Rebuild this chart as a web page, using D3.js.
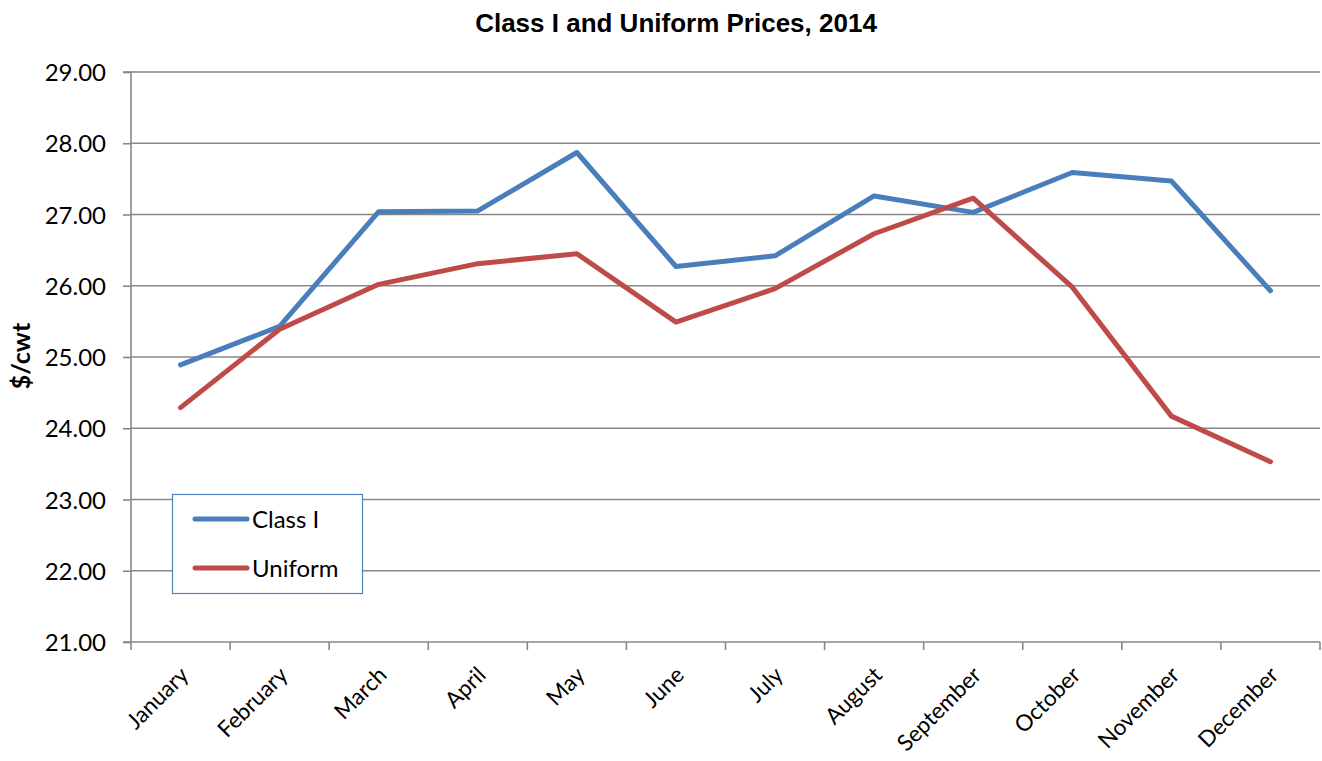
<!DOCTYPE html>
<html>
<head>
<meta charset="utf-8">
<script src="https://cdn.jsdelivr.net/npm/d3@7"></script>
<style>
    body { margin: 0; background: #fff; }
    .tick text { font-family: Lato, sans-serif; }
</style>
</head>
<body>
<div id="chart"></div>
<script>
let months = ['January', 'February', 'March', 'April', 'May', 'June',
    'July', 'August', 'September', 'October', 'November', 'December'];
let classI = [24.89, 25.43, 27.04, 27.05, 27.87, 26.27, 26.42, 27.26, 27.03, 27.59, 27.47, 25.93];
let uniform = [24.29, 25.39, 26.02, 26.31, 26.45, 25.49, 25.96, 26.73, 27.23, 25.98, 24.17, 23.53];
let yTicks = [21, 22, 23, 24, 25, 26, 27, 28, 29];
let seriesNames = ['Class I', 'Uniform'];
let seriesColors = ['#4A7EBB', '#BE4B48'];

let margin = ({top: 72, right: 2, bottom: 119, left: 131});
let width = 1322 - margin.left - margin.right;
let height = 761 - margin.top - margin.bottom;

let svg = d3.select('#chart').append('svg')
    .attr('width', 1322)
    .attr('height', 761);

let g = svg.append('g')
    .attr('transform', `translate(${margin.left}, ${margin.top})`);

let x = d3.scaleBand().domain(months).range([0, width]);
let y = d3.scaleLinear().domain([21, 29]).range([height, 0]);

// title
svg.append('text')
    .attr('x', 676)
    .attr('y', 32)
    .attr('text-anchor', 'middle')
    .style('font-family', '"Liberation Sans", Arial, sans-serif')
    .style('font-weight', 'bold')
    .style('font-size', '26px')
    .text('Class I and Uniform Prices, 2014');

// y label
svg.append('text')
    .attr('transform', 'translate(30, 356) rotate(-90)')
    .attr('text-anchor', 'middle')
    .style('font-family', 'Lato, sans-serif')
    .style('font-weight', 'bold')
    .style('font-size', '25px')
    .text('$/cwt');

// gridlines
g.append('g')
    .selectAll('line')
    .data(yTicks.slice(1))
    .enter().append('line')
    .attr('x1', 0)
    .attr('x2', width)
    .attr('y1', d => y(d))
    .attr('y2', d => y(d))
    .attr('stroke', '#878787')
    .attr('stroke-width', 1.6);

// y axis
let yAxis = g.append('g')
    .call(d3.axisLeft(y).tickValues(yTicks).tickFormat(d3.format('.2f')).tickSize(8).tickPadding(17));
yAxis.selectAll('line, path').attr('stroke', '#878787').attr('stroke-width', 1.6);
yAxis.select('.domain').attr('d', `M-8,${height}H0V0H-8`);
yAxis.selectAll('.tick text')
    .style('font-size', '24px')
    .attr('fill', '#000')
    .attr('dy', '0.36em');

// x axis with ticks at band edges
let xAxis = g.append('g')
    .attr('transform', `translate(0, ${height})`);
xAxis.append('line')
    .attr('x1', 0).attr('x2', width)
    .attr('stroke', '#878787').attr('stroke-width', 1.6);
xAxis.selectAll('.edge')
    .data(months.concat(['end']))
    .enter().append('line')
    .attr('class', 'edge')
    .attr('x1', (d, i) => i * x.bandwidth())
    .attr('x2', (d, i) => i * x.bandwidth())
    .attr('y1', 0).attr('y2', 8)
    .attr('stroke', '#878787').attr('stroke-width', 1.6);
xAxis.selectAll('.mlabel')
    .data(months)
    .enter().append('text')
    .attr('class', 'mlabel')
    .attr('transform', d => `translate(${x(d) + x.bandwidth() / 2 - 2}, 23) rotate(-45)`)
    .attr('text-anchor', 'end')
    .attr('dy', '0.72em')
    .style('font-family', 'Lato, sans-serif')
    .style('font-size', '22.5px')
    .text(d => d);

// lines
let line = d3.line()
    .x((d, i) => x(months[i]) + x.bandwidth() / 2)
    .y(d => y(d));

[classI, uniform].forEach((s, k) => {
    g.append('path')
        .datum(s)
        .attr('fill', 'none')
        .attr('stroke', seriesColors[k])
        .attr('stroke-width', 5)
        .attr('stroke-linejoin', 'round')
        .attr('stroke-linecap', 'round')
        .attr('d', line);
});

// legend
let legend = svg.append('g')
    .attr('transform', 'translate(172, 494)');
legend.append('rect')
    .attr('x', 0.5).attr('y', 0.5)
    .attr('width', 190).attr('height', 99)
    .attr('fill', '#fff')
    .attr('stroke', '#4F81BD')
    .attr('stroke-width', 1.2);

let items = legend.selectAll('.item')
    .data(seriesNames)
    .enter().append('g')
    .attr('class', 'item')
    .attr('transform', (d, i) => `translate(0, ${25 + i * 49})`);
items.append('line')
    .attr('x1', 23).attr('x2', 75)
    .attr('stroke', (d, i) => seriesColors[i])
    .attr('stroke-width', 5)
    .attr('stroke-linecap', 'round');
items.append('text')
    .attr('x', 80)
    .attr('dy', '0.36em')
    .style('font-family', 'Lato, sans-serif')
    .style('font-size', '24px')
    .text(d => d);
</script>
</body>
</html>
